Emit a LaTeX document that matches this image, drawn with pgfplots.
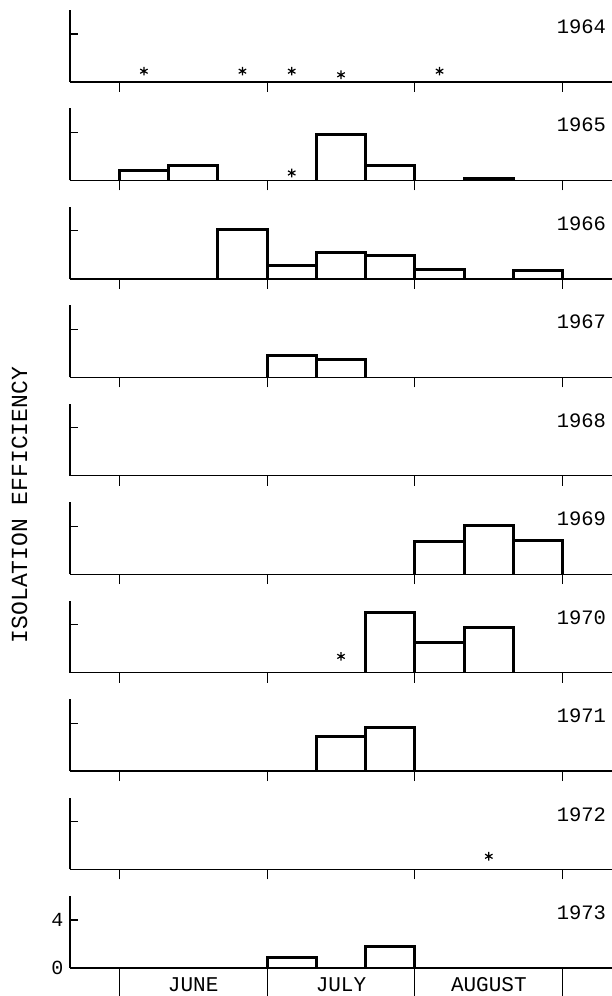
\documentclass[border=0pt]{standalone}
\usepackage{pgfplots}
\pgfplotsset{compat=1.18}
\usepackage{fontspec}
\setmainfont{Liberation Mono}
\tikzset{yr/.style={anchor=east, font=\fontsize{20.5}{24}\selectfont}}
\pgfplotsset{
  panel/.style={
    scale only axis, width=542pt, height=72pt,
    anchor=south west,
    xmin=-1, xmax=10, ymin=0, ymax=6,
    axis x line=bottom, axis y line=left,
    axis line style={-, line width=1.3pt, black},
    tick style={black, line width=1.1pt},
    tick align=outside, major tick length=10pt,
    xtick={0,3,6,9}, xticklabels={},
    ytick=\empty,
    extra y ticks={4}, extra y tick labels={},
    extra y tick style={tick align=inside, major tick length=8pt},
    unbounded coords=jump,
    clip=false,
  },
  bars/.style={sharp plot, no marks, draw=black, line width=3pt, line join=miter, line cap=butt},
  stars/.style={only marks, mark=asterisk, mark size=4.3pt, mark options={line width=1.2pt, black}},
}
\begin{document}
\begin{tikzpicture}
\useasboundingbox (0,0) rectangle (612pt,996pt);
% 1964
\begin{axis}[panel, at={(70pt,914pt)}]
\addplot[stars] coordinates {(0.5,0.9) (2.5,0.9) (3.5,0.9) (4.5,0.6) (6.5,0.9)};
\node[yr] at (axis cs:9.95,4.6) {1964};
\end{axis}
% 1965
\begin{axis}[panel, at={(70pt,815.6pt)}]
\addplot[bars] coordinates {(0,0) (0,0.81) (1,0.81) (1,0) (1,nan)
  (1,0) (1,1.27) (2,1.27) (2,0) (2,nan)
  (4,0) (4,3.85) (5,3.85) (5,0) (5,nan)
  (5,0) (5,1.2) (6,1.2) (6,0) (6,nan)
  (7,0) (7,0.15) (8,0.15) (8,0)};
\addplot[stars] coordinates {(3.5,0.62)};
\node[yr] at (axis cs:9.95,4.6) {1965};
\end{axis}
% 1966
\begin{axis}[panel, at={(70pt,717.1pt)}]
\addplot[bars] coordinates {(2,0) (2,4.08) (3,4.08) (3,0) (3,nan)
  (3,0) (3,1.09) (4,1.09) (4,0) (4,nan)
  (4,0) (4,2.24) (5,2.24) (5,0) (5,nan)
  (5,0) (5,1.92) (6,1.92) (6,0) (6,nan)
  (6,0) (6,0.75) (7,0.75) (7,0) (7,nan)
  (8,0) (8,0.7) (9,0.7) (9,0)};
\node[yr] at (axis cs:9.95,4.6) {1966};
\end{axis}
% 1967
\begin{axis}[panel, at={(70pt,618.7pt)}]
\addplot[bars] coordinates {(3,0) (3,1.85) (4,1.85) (4,0) (4,nan)
  (4,0) (4,1.52) (5,1.52) (5,0)};
\node[yr] at (axis cs:9.95,4.6) {1967};
\end{axis}
% 1968
\begin{axis}[panel, at={(70pt,520.2pt)}]
\node[yr] at (axis cs:9.95,4.6) {1968};
\end{axis}
% 1969
\begin{axis}[panel, at={(70pt,421.8pt)}]
\addplot[bars] coordinates {(6,0) (6,2.76) (7,2.76) (7,0) (7,nan)
  (7,0) (7,4.08) (8,4.08) (8,0) (8,nan)
  (8,0) (8,2.82) (9,2.82) (9,0)};
\node[yr] at (axis cs:9.95,4.6) {1969};
\end{axis}
% 1970
\begin{axis}[panel, at={(70pt,323.4pt)}]
\addplot[bars] coordinates {(5,0) (5,5.03) (6,5.03) (6,0) (6,nan)
  (6,0) (6,2.54) (7,2.54) (7,0) (7,nan)
  (7,0) (7,3.76) (8,3.76) (8,0)};
\addplot[stars] coordinates {(4.5,1.35)};
\node[yr] at (axis cs:9.95,4.6) {1970};
\end{axis}
% 1971
\begin{axis}[panel, at={(70pt,224.9pt)}]
\addplot[bars] coordinates {(4,0) (4,2.86) (5,2.86) (5,0) (5,nan)
  (5,0) (5,3.6) (6,3.6) (6,0)};
\node[yr] at (axis cs:9.95,4.6) {1971};
\end{axis}
% 1972
\begin{axis}[panel, at={(70pt,126.5pt)}]
\addplot[stars] coordinates {(7.5,1.1)};
\node[yr] at (axis cs:9.95,4.6) {1972};
\end{axis}
% 1973
\begin{axis}[panel, at={(70pt,28pt)}, major tick length=28pt,
  extra y ticks={0,4}, extra y tick labels={0,4},
  extra y tick style={tick align=inside, major tick length=8pt,
    yticklabel style={font=\fontsize{20}{23}\selectfont, xshift=-3pt}},
  extra x ticks={1.5,4.5,7.5}, extra x tick labels={JUNE,JULY,AUGUST},
  extra x tick style={major tick length=0pt,
    xticklabel style={font=\fontsize{21}{24}\selectfont, yshift=-6pt}}]
\addplot[bars] coordinates {(3,0) (3,0.89) (4,0.89) (4,0) (4,nan)
  (5,0) (5,1.76) (6,1.76) (6,0)};
\node[yr] at (axis cs:9.95,4.6) {1973};
\end{axis}
\node[rotate=90, font=\fontsize{23}{27}\selectfont] at (19.5pt,491pt) {ISOLATION EFFICIENCY};
\end{tikzpicture}
\end{document}
